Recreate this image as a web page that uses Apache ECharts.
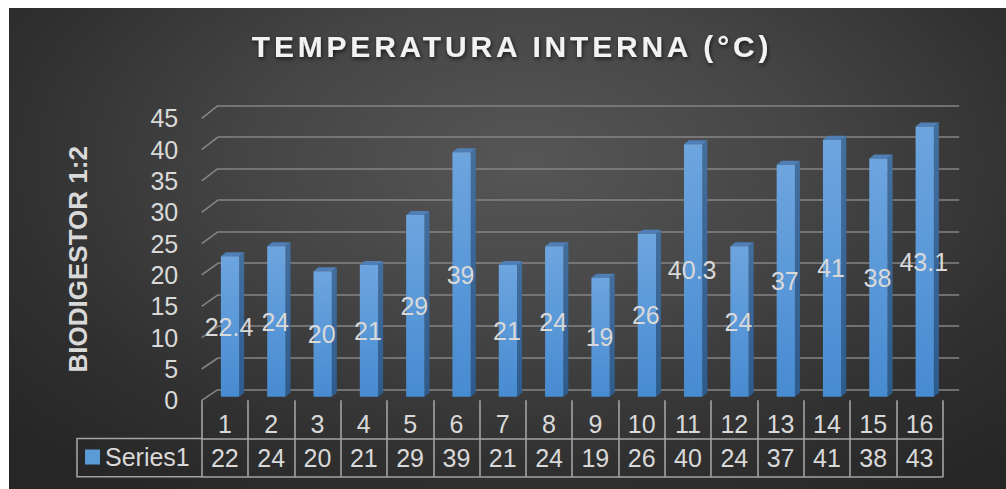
<!DOCTYPE html>
<html>
<head>
<meta charset="utf-8">
<title>Temperatura interna</title>
<script src="https://cdn.jsdelivr.net/npm/echarts@6/dist/echarts.min.js"></script>
<style>
  html, body { margin: 0; padding: 0; background: #ffffff; }
  #wrap { position: relative; width: 1006px; height: 489px; overflow: hidden; }
  #bg {
    position: absolute; left: 9px; top: 8px; width: 997px; height: 481px;
    background: radial-gradient(ellipse 70% 85% at 52% 32%, #565656 0%, #454545 40%, #303030 75%, #262626 100%);
  }
  #chart { position: absolute; left: 0; top: 0; width: 1006px; height: 489px; }
</style>
</head>
<body>
<div id="wrap">
  <div id="bg"></div>
  <div id="chart"></div>
</div>
<script>
// Chart data
const TITLE = 'TEMPERATURA INTERNA (°C)';
const Y_NAME = 'BIODIGESTOR 1:2';
const SERIES_NAME = 'Series1';
const categories = ['1', '2', '3', '4', '5', '6', '7', '8', '9', '10', '11', '12', '13', '14', '15', '16'];
const temperatures = [22.4, 24, 20, 21, 29, 39, 21, 24, 19, 26, 40.3, 24, 37, 41, 38, 43.1];
const yTicks = [0, 5, 10, 15, 20, 25, 30, 35, 40, 45];

// Data table row shows the values with no decimals
const tableValues = temperatures.map(v => v.toFixed(0));

const Y_MIN = yTicks[0];
const Y_MAX = yTicks[yTicks.length - 1];
const Y_STEP = yTicks[1] - yTicks[0];

// Geometry of the 3D box: front plane (axis labels, table) and back wall (gridlines)
const FRONT = { left: 201.7, top: 118.3, width: 741, height: 282 };
const BACK = { left: 218.2, top: 105.3, width: 741, height: 284 };
const TABLE_ROW = 38.2;
const LEGEND_CELL_LEFT = 77;

const TEXT = '#d9d9d9';
const TABLE_LINE = '#a3a3a3';
const GRID_LINE = '#858585';
const FONT = "'Liberation Sans', Arial, sans-serif";

const chart = echarts.init(document.getElementById('chart'), null, { renderer: 'svg' });

// Draws one 3D column: front face, right side, top face and centered value label
function renderColumn(params, api) {
  const idx = api.value(0);
  const val = api.value(1);
  const base = api.coord([idx, 0]);
  const top = api.coord([idx, val]);
  const band = api.size([1, 0])[0];
  const fw = band * 0.395;
  const cx = base[0] + band * 0.112;
  const lift = -3.6;
  const x0 = cx - fw / 2, x1 = cx + fw / 2;
  const y0 = top[1] + lift, y1 = base[1] + lift;
  const dx = 5, dy = -4;
  return {
    type: 'group',
    children: [
      {
        type: 'polygon',
        shape: { points: [[x1, y0], [x1 + dx, y0 + dy], [x1 + dx, y1 + dy], [x1, y1]] },
        style: { fill: new echarts.graphic.LinearGradient(0, 0, 0, 1, [
          { offset: 0, color: '#436f9f' }, { offset: 1, color: '#2d5b8c' }]) }
      },
      {
        type: 'polygon',
        shape: { points: [[x0, y0], [x0 + dx, y0 + dy], [x1 + dx, y0 + dy], [x1, y0]] },
        style: { fill: '#4f7fb6' }
      },
      {
        type: 'rect',
        shape: { x: x0, y: y0, width: fw, height: y1 - y0 },
        style: { fill: new echarts.graphic.LinearGradient(0, 0, 0, 1, [
          { offset: 0, color: '#6da5df' }, { offset: 1, color: '#478bd1' }]) }
      },
      {
        type: 'text',
        x: cx - 1,
        y: (y0 + y1) / 2,
        style: {
          text: String(val), fill: TEXT, font: '25px ' + FONT,
          align: 'center', verticalAlign: 'middle'
        }
      }
    ]
  };
}

// Short diagonal on the left wall joining each front tick to its back gridline
function renderWallEdge(params, api) {
  const v = api.value(1);
  const p = api.coord([0, v]);
  const xf = params.coordSys.x;
  const yb = BACK.top + BACK.height * (1 - (v - Y_MIN) / (Y_MAX - Y_MIN));
  return {
    type: 'line',
    shape: { x1: xf, y1: p[1], x2: BACK.left, y2: yb },
    style: { stroke: GRID_LINE, lineWidth: 1.6 }
  };
}

const tableTop = FRONT.top + FRONT.height;
const rowLine1 = tableTop + TABLE_ROW;
const rowLine2 = tableTop + TABLE_ROW * 2;

const option = {
  animation: false,
  title: {
    text: TITLE,
    left: 512,
    top: 31.5,
    textAlign: 'center',
    padding: 0,
    textStyle: {
      fontFamily: FONT, fontSize: 30, fontWeight: 'bold', color: '#f2f2f2',
      textShadowColor: 'rgba(0,0,0,0.65)', textShadowBlur: 4, textShadowOffsetX: 1, textShadowOffsetY: 2
    }
  },
  legend: {
    data: [{ name: SERIES_NAME, itemStyle: { color: '#5b9bd5' } }],
    left: 85,
    top: 444.5,
    padding: 0,
    icon: 'rect',
    itemWidth: 15,
    itemHeight: 15,
    selectedMode: false,
    textStyle: { color: TEXT, fontSize: 25, fontFamily: FONT }
  },
  // Legend key cell of the data table
  graphic: [
    {
      type: 'polyline',
      silent: true,
      shape: { points: [[FRONT.left, rowLine1], [LEGEND_CELL_LEFT, rowLine1], [LEGEND_CELL_LEFT, rowLine2], [FRONT.left, rowLine2]] },
      style: { stroke: TABLE_LINE, lineWidth: 1.6, fill: null }
    }
  ],
  grid: [
    { left: BACK.left, top: BACK.top, width: BACK.width, height: BACK.height },
    { left: FRONT.left, top: FRONT.top, width: FRONT.width, height: FRONT.height }
  ],
  xAxis: [
    { gridIndex: 0, type: 'value', min: 0, max: 1, show: false },
    {
      gridIndex: 1, type: 'category', data: categories, boundaryGap: true,
      axisLine: { show: false },
      axisTick: { show: true, interval: 0, length: TABLE_ROW * 2, lineStyle: { color: TABLE_LINE, width: 1.6 } },
      axisLabel: { interval: 0, color: TEXT, fontSize: 25, fontFamily: FONT, margin: 11 },
      splitLine: { show: false }
    },
    {
      gridIndex: 1, type: 'category', data: tableValues, boundaryGap: true, position: 'bottom', offset: TABLE_ROW,
      axisLine: { show: true, lineStyle: { color: TABLE_LINE, width: 1.6 } },
      axisTick: { show: false },
      axisLabel: { interval: 0, color: TEXT, fontSize: 25, fontFamily: FONT, margin: 6.5 }
    },
    {
      gridIndex: 1, type: 'category', data: categories, boundaryGap: true, position: 'bottom', offset: TABLE_ROW * 2,
      axisLine: { show: true, lineStyle: { color: TABLE_LINE, width: 1.6 } },
      axisTick: { show: false },
      axisLabel: { show: false }
    }
  ],
  yAxis: [
    {
      gridIndex: 0, type: 'value', min: Y_MIN, max: Y_MAX, interval: Y_STEP,
      axisLine: { show: false }, axisTick: { show: false }, axisLabel: { show: false },
      splitLine: { show: true, lineStyle: { color: GRID_LINE, width: 1.6 } }
    },
    {
      gridIndex: 1, type: 'value', min: Y_MIN, max: Y_MAX, interval: Y_STEP,
      axisLine: { show: false }, axisTick: { show: false },
      splitLine: { show: false },
      axisLabel: { color: TEXT, fontSize: 25, fontFamily: FONT, margin: 23.5 },
      name: Y_NAME, nameLocation: 'middle', nameRotate: 90, nameGap: 111,
      nameTextStyle: { color: TEXT, fontSize: 26, fontWeight: 'bold', fontFamily: FONT }
    }
  ],
  series: [
    {
      type: 'custom',
      xAxisIndex: 1, yAxisIndex: 1,
      silent: true, z: 1,
      renderItem: renderWallEdge,
      data: yTicks.map(v => [0, v])
    },
    {
      name: SERIES_NAME,
      type: 'custom',
      xAxisIndex: 1, yAxisIndex: 1,
      z: 3,
      itemStyle: { color: '#5b9bd5' },
      renderItem: renderColumn,
      data: temperatures.map((v, i) => [i, v])
    }
  ]
};

chart.setOption(option);

// Wide tracking on the title text
function spaceTitle() {
  document.querySelectorAll('#chart svg text').forEach(t => {
    if (t.textContent === TITLE) t.style.letterSpacing = '3.8px';
  });
}
spaceTitle();
chart.on('finished', spaceTitle);
setTimeout(spaceTitle, 50);
</script>
</body>
</html>
